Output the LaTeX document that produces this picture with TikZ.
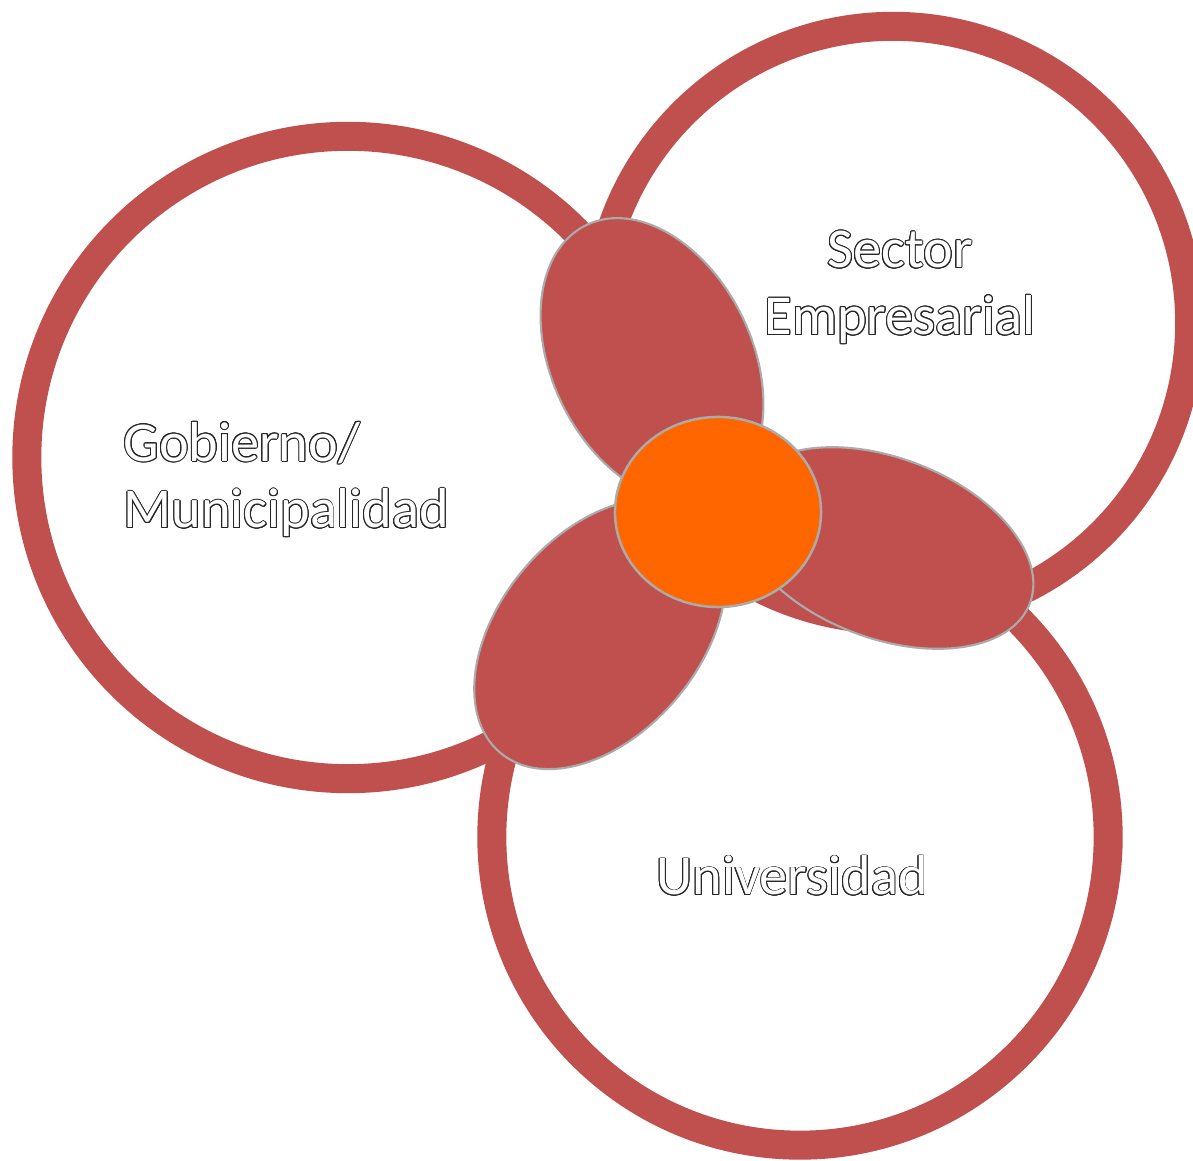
\documentclass[tikz,border=0pt]{standalone}
\usepackage{fontspec}
\setmainfont{Carlito}
\usepackage[copies]{contour}
\contourlength{0.28pt}
\usetikzlibrary{positioning}
\definecolor{ringred}{HTML}{C0504D}
\definecolor{huborange}{HTML}{FF6600}
\definecolor{rimgrey}{HTML}{ABABAB}
\definecolor{inkgrey}{HTML}{262626}
\tikzset{
  ring/.style={
    draw=ringred,
    line width=2.9mm
  },
  petal/.style={
    fill=ringred,
    draw=rimgrey,
    line width=0.6pt
  },
  hub/.style={
    fill=huborange,
    draw=rimgrey,
    line width=0.7pt
  },
  actor/.style={
    inner sep=0pt,
    text=white,
    font=\fontsize{16}{19}\selectfont
  }
}
\newcommand{\outl}[1]{\contour{inkgrey}{#1}}
\begin{document}
\begin{tikzpicture}[x=0.01cm,y=-0.01cm]
    \useasboundingbox (0,0) rectangle (1193,1161);
    \clip (0,0) rectangle (1193,1161);
    % the three rings
    \foreach \cx/\cy/\r in {348/457.5/3.21cm, 893/323/2.965cm, 800/837/3.08cm}{
        \draw[ring] (\cx,\cy) circle [radius=\r];
    }
    % petals
    \foreach \cx/\cy/\ang/\ra/\rb in {652/360/-64/1.5cm/1cm, 885/548/-21/1.55cm/0.9cm, 600/634/50/1.55cm/1cm}{
        \draw[petal, rotate around={\ang:(\cx,\cy)}] (\cx,\cy) ellipse [x radius=\ra, y radius=\rb];
    }
    \draw[hub] (718,512) ellipse [x radius=1.03cm, y radius=0.95cm];
    % labels
    \node[actor, align=left, anchor=west] (gob) at (123,480) {\outl{Gobierno/}\\\outl{Municipalidad}};
    \node[actor, align=center] (emp) at (900,288) {\outl{Sector}\\\outl{Empresarial}};
    \node[actor, anchor=base] (uni) at (792,895) {\outl{Universidad}};
\end{tikzpicture}
\end{document}
